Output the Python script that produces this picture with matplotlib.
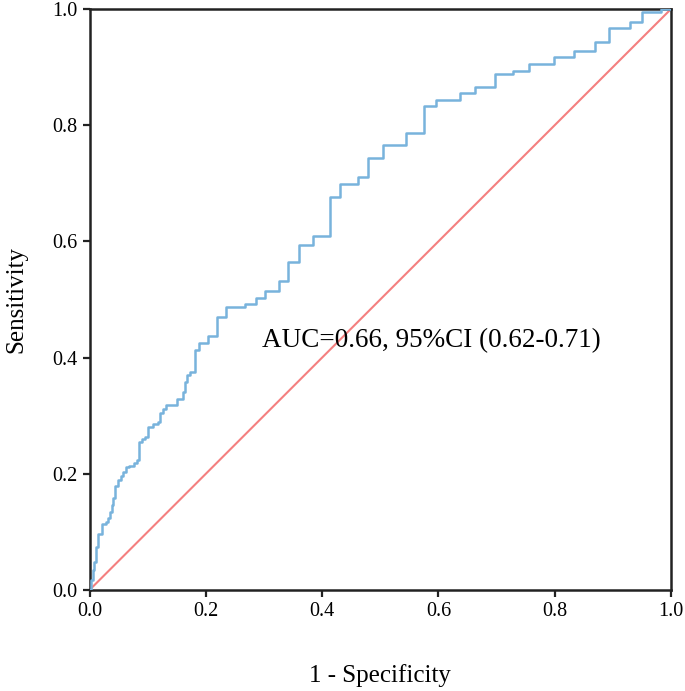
import matplotlib
matplotlib.use("Agg")
import matplotlib.pyplot as plt

# ROC step points: at each fpr the curve rises to tpr (horizontal then vertical)
fpr = [0.0, 0.0026, 0.0055, 0.0077, 0.011, 0.015, 0.021, 0.028, 0.032, 0.035, 0.038,
       0.041, 0.043, 0.049, 0.054, 0.058, 0.063, 0.068, 0.077, 0.081, 0.085, 0.090,
       0.095, 0.101, 0.110, 0.117, 0.121, 0.127, 0.132, 0.151, 0.161, 0.164, 0.168,
       0.173, 0.181, 0.189, 0.204, 0.219, 0.235, 0.267, 0.286, 0.302, 0.325, 0.342,
       0.361, 0.385, 0.414, 0.431, 0.462, 0.479, 0.505, 0.545, 0.576, 0.596, 0.637,
       0.663, 0.697, 0.728, 0.755, 0.798, 0.833, 0.870, 0.894, 0.929, 0.950, 0.983, 1.0]
tpr = [0.0, 0.017, 0.034, 0.048, 0.074, 0.096, 0.114, 0.117, 0.124, 0.134, 0.146,
       0.158, 0.179, 0.189, 0.196, 0.203, 0.212, 0.213, 0.219, 0.224, 0.255, 0.260,
       0.263, 0.281, 0.286, 0.289, 0.305, 0.312, 0.318, 0.329, 0.341, 0.358, 0.370,
       0.375, 0.413, 0.425, 0.437, 0.470, 0.487, 0.492, 0.503, 0.515, 0.532, 0.565,
       0.593, 0.610, 0.676, 0.699, 0.710, 0.743, 0.766, 0.787, 0.833, 0.843, 0.855,
       0.865, 0.888, 0.894, 0.905, 0.917, 0.928, 0.944, 0.967, 0.978, 0.994, 1.0, 1.0]
ref = [0.0, 1.0]
ticks = [0.0, 0.2, 0.4, 0.6, 0.8, 1.0]
auc_text = "AUC=0.66, 95%CI (0.62-0.71)"

plt.rcParams["font.family"] = ["Liberation Serif", "DejaVu Serif"]
fig = plt.figure(figsize=(6.85, 6.91), dpi=100)
ax = fig.add_axes([0.1307, 0.1462, 0.8489, 0.8408])

ax.plot(ref, ref, color="#f47f7f", lw=1.5, zorder=2)
ax.plot(fpr, tpr, drawstyle="steps-post", color="#78b3dc", lw=1.8, zorder=3)
ax.text(0.297, 0.43, auc_text, fontsize=19.5, va="center", ha="left")

ax.set_xlim(0, 1); ax.set_ylim(0, 1)
ax.set_xticks(ticks); ax.set_yticks(ticks)
ax.set_xticklabels([f"{t:.1f}" for t in ticks]); ax.set_yticklabels([f"{t:.1f}" for t in ticks])
ax.tick_params(labelsize=14.5, width=1.6, length=5, direction="out", color="#222222")
for s in ax.spines.values():
    s.set_linewidth(1.8); s.set_color("#222222")
ax.set_xlabel("1 - Specificity", fontsize=18, labelpad=31)
ax.set_ylabel("Sensitivity", fontsize=18, labelpad=18)

fig.savefig("out.png", dpi=100)
